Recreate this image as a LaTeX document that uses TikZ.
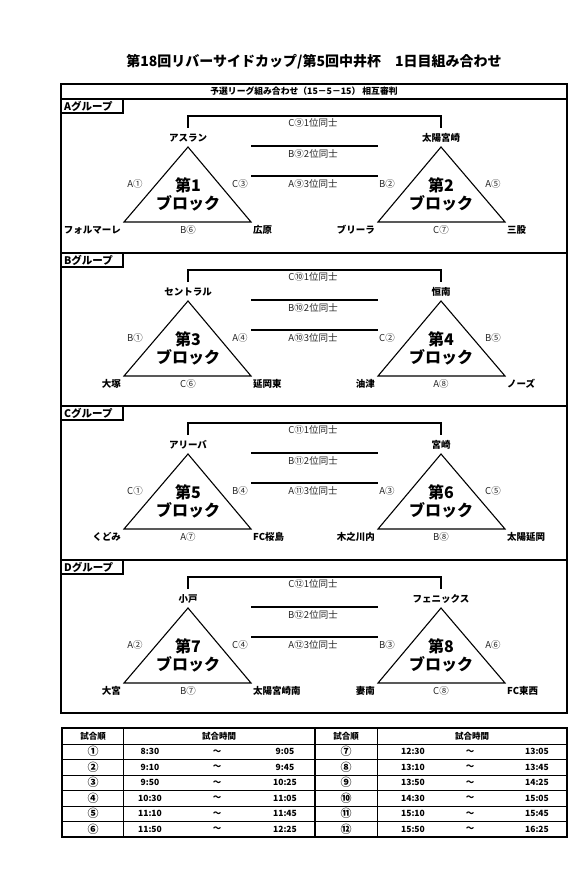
\documentclass[tikz,border=0pt]{standalone}
\usepackage{fontspec}
\setmainfont{Noto Sans CJK JP}
\usetikzlibrary{positioning}
\tikzset{
  team/.style={font=\fontsize{9.5}{10}\selectfont\bfseries, inner sep=1pt},
  game/.style={font=\fontsize{9.5}{10}\selectfont, text=black!85, inner sep=1pt},
  block/.style={font=\fontsize{16}{18}\selectfont\bfseries, align=center, inner sep=0pt},
  tri/.style={line width=1.1pt, line join=miter},
  rule/.style={line width=1.3pt},
  cell/.style={font=\fontsize{8.5}{9}\selectfont\bfseries, inner sep=0pt},
  order/.style={font=\fontsize{11}{11}\selectfont\bfseries, inner sep=0pt},
}
\begin{document}
\begin{tikzpicture}[x=1pt,y=-1pt]
  \useasboundingbox (0,0) rectangle (588,896);
  % Title
  \node[font=\fontsize{14}{15}\selectfont\bfseries] (title) at (314,62)
    {第18回リバーサイドカップ/第5回中井杯　1日目組み合わせ};
  % Draw the frame and the header bar
  \draw[rule] (61,84) rectangle (567,713);
  \node[font=\fontsize{8.8}{9}\selectfont\bfseries] (head) at (304,91)
    {予選リーグ組み合わせ（15－5－15）\ 相互審判};
  % Groups A to D
  \foreach \g/\oy/\ba/\bb/\ta/\tb/\tc/\td/\te/\tf/\la/\lb/\lc/\ld/\le/\lf/\m in {
    A/99/1/2/アスラン/フォルマーレ/広原/太陽宮崎/ブリーラ/三股/A①/C③/B⑥/B②/A⑤/C⑦/⑨,
    B/253/3/4/セントラル/大塚/延岡東/恒南/油津/ノーズ/B①/A④/C⑥/C②/B⑤/A⑧/⑩,
    C/406/5/6/アリーバ/くどみ/FC桜島/宮崎/木之川内/太陽延岡/C①/B④/A⑦/A③/C⑤/B⑧/⑪,
    D/560/7/8/小戸/大宮/太陽宮崎南/フェニックス/妻南/FC東西/A②/C④/B⑦/B③/A⑥/C⑧/⑫}{
    \begin{scope}[yshift=-\oy pt]
      % group rule and label box
      \draw[rule] (61,0) -- (567,0);
      \draw[rule] (61,0) rectangle (123,14);
      \node[team, font=\fontsize{10.5}{11}\selectfont\bfseries, anchor=west] (lab\g) at (63,7) {\g グループ};
      % Place the teams
      \node[team] (ta\g) at (188,39) {\ta};
      \node[team, anchor=east] (tb\g) at (122,131) {\tb};
      \node[team, anchor=west] (tc\g) at (252,131) {\tc};
      \node[team] (td\g) at (441,39) {\td};
      \node[team, anchor=east] (te\g) at (376,131) {\te};
      \node[team, anchor=west] (tf\g) at (506,131) {\tf};
      % Draw the two triangles
      \coordinate (p\g) at (188,48);
      \coordinate (q\g) at (124,123);
      \coordinate (r\g) at (251,123);
      \coordinate (s\g) at (441,48);
      \coordinate (u\g) at (378,123);
      \coordinate (v\g) at (505,123);
      \draw[tri] (p\g) -- (q\g) -- (r\g) -- cycle;
      \draw[tri] (s\g) -- (u\g) -- (v\g) -- cycle;
      \node[block] (ka\g) at (188,95) {第\ba\\ブロック};
      \node[block] (kb\g) at (441,95) {第\bb\\ブロック};
      % Draw the bracket and the rules between blocks
      \coordinate (x\g) at (188,29);
      \coordinate (y\g) at (441,29);
      \draw[tri] (x\g) -- ++(0,-12) -| (y\g);
      \draw[rule] (r\g |- 0,47) -- (u\g |- 0,47);
      \draw[rule] (r\g |- 0,77) -- (u\g |- 0,77);
      % Game labels
      \node[game] (ma\g) at (313,24) {C\m 1位同士};
      \node[game] (mb\g) at (313,55) {B\m 2位同士};
      \node[game] (mc\g) at (313,85) {A\m 3位同士};
      \node[game] (la\g) at (135,85) {\la};
      \node[game] (lb\g) at (240,85) {\lb};
      \node[game] (lc\g) at (188,131) {\lc};
      \node[game] (ld\g) at (387,85) {\ld};
      \node[game] (le\g) at (493,85) {\le};
      \node[game] (lf\g) at (441,131) {\lf};
    \end{scope}
  }
  % Schedule table
  \draw[line width=1.2pt] (62,728) rectangle (567,837);
  \foreach \i in {0,...,5}
    \draw[line width=0.6pt] (62,{744+15.5*\i}) -- (567,{744+15.5*\i});
  \draw[line width=0.6pt] (123,728) -- (123,837);
  \draw[line width=0.6pt] (377,728) -- (377,837);
  \draw[line width=1.2pt] (315,728) -- (315,837);
  \node[cell] (ha) at (93,736) {試合順};
  \node[cell] (hb) at (219,736) {試合時間};
  \node[cell] (hc) at (346,736) {試合順};
  \node[cell] (hd) at (472,736) {試合時間};
  \foreach \i/\n/\s/\e/\nn/\ss/\ee in {
    1/①/8:30/9:05/⑦/12:30/13:05,
    2/②/9:10/9:45/⑧/13:10/13:45,
    3/③/9:50/10:25/⑨/13:50/14:25,
    4/④/10:30/11:05/⑩/14:30/15:05,
    5/⑤/11:10/11:45/⑪/15:10/15:45,
    6/⑥/11:50/12:25/⑫/15:50/16:25}{
    \pgfmathsetmacro\ry{736.25+15.5*\i}
    \node[order] (na\i) at (93,\ry) {\n};
    \node[cell] (sa\i) at (150,\ry) {\s};
    \node[cell] (wa\i) at (217,\ry) {～};
    \node[cell] (ea\i) at (285,\ry) {\e};
    \node[order] (nb\i) at (346,\ry) {\nn};
    \node[cell] (sb\i) at (413,\ry) {\ss};
    \node[cell] (wb\i) at (470,\ry) {～};
    \node[cell] (eb\i) at (537,\ry) {\ee};
  }
\end{tikzpicture}
\end{document}
